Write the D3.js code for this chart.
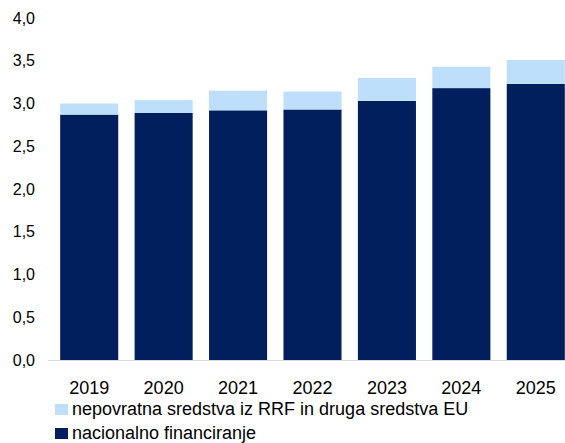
<!DOCTYPE html>
<html>
<head>
<meta charset="utf-8">
<script src="https://cdn.jsdelivr.net/npm/d3@7"></script>
<style>
  body { margin: 0; background: #fff; }
  text { font-family: "Liberation Sans", Arial, sans-serif; fill: #000; }
</style>
</head>
<body>
<div id="chart"></div>
<script>
var svgWidth = 565;
var svgHeight = 443;

// data
var years = ["2019", "2020", "2021", "2022", "2023", "2024", "2025"];
var nacionalno = [2.87, 2.89, 2.92, 2.93, 3.03, 3.18, 3.23];
var rrf = [0.13, 0.15, 0.23, 0.21, 0.27, 0.25, 0.28];
var yTicks = [0, 0.5, 1, 1.5, 2, 2.5, 3, 3.5, 4];
var seriesNames = ["nepovratna sredstva iz RRF in druga sredstva EU", "nacionalno financiranje"];

var darkBlue = "#001f5c";
var lightBlue = "#bddffb";

var svg = d3.select("#chart")
  .append("svg")
  .attr("width", svgWidth)
  .attr("height", svgHeight);

var x = d3.scaleBand()
  .domain(years)
  .range([52, 573])
  .paddingInner(0.22)
  .paddingOuter(0.11);

var y = d3.scaleLinear()
  .domain([0, 4])
  .range([360, 18]);

// y tick labels
svg.append("g")
  .selectAll("text")
  .data(yTicks)
  .enter()
  .append("text")
  .attr("x", 35)
  .attr("y", d => y(d))
  .attr("dy", "0.35em")
  .attr("text-anchor", "end")
  .attr("font-size", 16)
  .text(d => d3.format(".1f")(d).replace(".", ","));

// dark bars (national)
svg.append("g")
  .selectAll("rect")
  .data(years)
  .enter()
  .append("rect")
  .attr("x", d => x(d))
  .attr("width", x.bandwidth())
  .attr("y", (d, i) => y(nacionalno[i]))
  .attr("height", (d, i) => y(0) - y(nacionalno[i]))
  .attr("fill", darkBlue);

// light bars stacked on top
svg.append("g")
  .selectAll("rect")
  .data(years)
  .enter()
  .append("rect")
  .attr("x", d => x(d))
  .attr("width", x.bandwidth())
  .attr("y", (d, i) => y(nacionalno[i] + rrf[i]))
  .attr("height", (d, i) => y(nacionalno[i]) - y(nacionalno[i] + rrf[i]))
  .attr("fill", lightBlue);

// baseline
svg.append("line")
  .attr("x1", 48)
  .attr("x2", svgWidth)
  .attr("y1", y(0) + 0.5)
  .attr("y2", y(0) + 0.5)
  .attr("stroke", "#d9d9d9")
  .attr("stroke-width", 1);

// x labels
svg.append("g")
  .selectAll("text")
  .data(years)
  .enter()
  .append("text")
  .attr("x", d => x(d) + x.bandwidth() / 2)
  .attr("y", 394)
  .attr("text-anchor", "middle")
  .attr("font-size", 18)
  .text(d => d);

// legend
var legend = svg.append("g");
var legendColors = [lightBlue, darkBlue];
seriesNames.forEach(function(name, i) {
  var ly = 415 + i * 24;
  legend.append("rect")
    .attr("x", 55)
    .attr("y", ly - 11)
    .attr("width", 13)
    .attr("height", 11)
    .attr("fill", legendColors[i]);
  legend.append("text")
    .attr("x", 72)
    .attr("y", ly)
    .attr("font-size", 18)
    .text(name);
});
</script>
</body>
</html>
